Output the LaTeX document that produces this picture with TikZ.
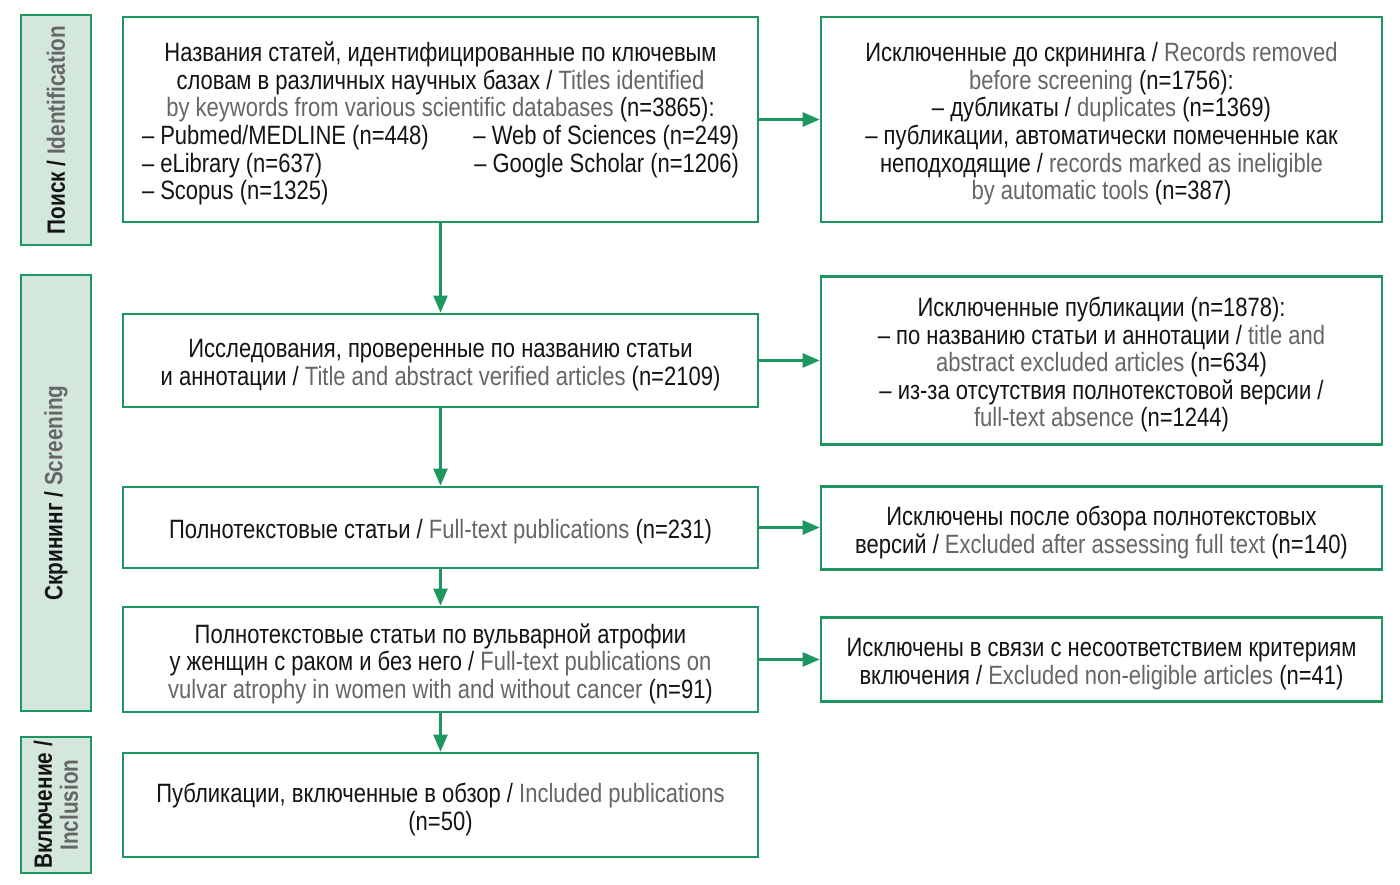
\documentclass[tikz,border=0pt]{standalone}
\usepackage{fontspec}
\setmainfont[FakeStretch=0.83]{Liberation Sans}
\usetikzlibrary{arrows.meta}
\definecolor{pgreen}{RGB}{30,150,95}
\definecolor{plabel}{RGB}{211,231,220}
\definecolor{pgray}{RGB}{102,102,102}
\definecolor{ptext}{RGB}{20,20,20}
\newcommand{\en}[1]{\textcolor{pgray}{#1}}
\newcommand{\topstrut}{\rule{0pt}{28pt}}
\tikzset{
  box/.style={draw=pgreen, line width=2.6pt, fill=white, rectangle, inner sep=0pt,
    text=ptext, align=center, font=\fontsize{26.5}{27.6}\selectfont},
  mainbox/.style={box, minimum width=635pt},
  sidebox/.style={box, minimum width=561pt},
  lab/.style={draw=pgreen, line width=2.6pt, fill=plabel, rectangle, inner sep=0pt,
    minimum height=70pt, text=ptext, align=center, rotate=90,
    font=\bfseries\fontsize{25}{26}\selectfont},
  arr/.style={draw=pgreen, line width=2.4pt, -{Triangle[length=17pt,width=14pt]}}
}
\begin{document}
\begin{tikzpicture}[x=1pt,y=-1pt]
\useasboundingbox (0,0) rectangle (1400,885);
\fill[white] (0,0) rectangle (1400,885);
% side labels
\node[lab, minimum width=230pt] (L1) at (56,130) {Поиск / \en{Identification}};
\node[lab, minimum width=436pt] (L2) at (56,493) {Скрининг / \en{Screening}};
\node[lab, minimum width=136pt] (L3) at (56,805) {Включение /\\\en{Inclusion}};
% main column
\node[mainbox, minimum height=205pt] (A) at (440.5,119.5) {%
\topstrut Названия статей, идентифицированные по ключевым\\
словам в различных научных базах / \en{Titles identified}\\
\en{by keywords from various scientific databases} (n=3865):\\
\makebox[597pt]{– Pubmed/MEDLINE (n=448)\hfill – Web of Sciences (n=249)}\\
\makebox[597pt]{– eLibrary (n=637)\hfill – Google Scholar (n=1206)}\\
\makebox[597pt][l]{– Scopus (n=1325)}};
\node[mainbox, minimum height=93pt] (B) at (440.5,360.5) {%
\topstrut Исследования, проверенные по названию статьи\\
и аннотации / \en{Title and abstract verified articles} (n=2109)};
\node[mainbox, minimum height=81pt] (C) at (440.5,527.5) {%
\topstrut Полнотекстовые статьи / \en{Full-text publications} (n=231)};
\node[mainbox, minimum height=105pt] (D) at (440.5,659.5) {%
\topstrut Полнотекстовые статьи по вульварной атрофии\\
у женщин с раком и без него / \en{Full-text publications on}\\
\en{vulvar atrophy in women with and without cancer} (n=91)};
\node[mainbox, minimum height=104pt] (E) at (440.5,805) {%
\topstrut Публикации, включенные в обзор / \en{Included publications}\\
(n=50)};
% right column
\node[sidebox, minimum height=205pt] (R1) at (1101.5,119.5) {%
\topstrut Исключенные до скрининга / \en{Records removed}\\
\en{before screening} (n=1756):\\
– дубликаты / \en{duplicates} (n=1369)\\
– публикации, автоматически помеченные как\\
неподходящие / \en{records marked as ineligible}\\
\en{by automatic tools} (n=387)};
\node[sidebox, minimum height=168pt] (R2) at (1101.5,360.5) {%
\topstrut Исключенные публикации (n=1878):\\
– по названию статьи и аннотации / \en{title and}\\
\en{abstract excluded articles} (n=634)\\
– из-за отсутствия полнотекстовой версии /\\
\en{full-text absence} (n=1244)};
\node[sidebox, minimum height=83pt] (R3) at (1101.5,528) {%
\topstrut Исключены после обзора полнотекстовых\\
версий / \en{Excluded after assessing full text} (n=140)};
\node[sidebox, minimum height=84pt] (R4) at (1101.5,659.5) {%
\topstrut Исключены в связи с несоответствием критериям\\
включения / \en{Excluded non-eligible articles} (n=41)};
% connectors
\draw[arr] (A) -- (B);
\draw[arr] (B) -- (C);
\draw[arr] (C) -- (D);
\draw[arr] (D) -- (E);
\draw[arr] (A.east) -- (A.east -| R1.west);
\draw[arr] (B.east) -- (B.east -| R2.west);
\draw[arr] (C.east) -- (C.east -| R3.west);
\draw[arr] (D.east) -- (D.east -| R4.west);
\end{tikzpicture}
\end{document}
